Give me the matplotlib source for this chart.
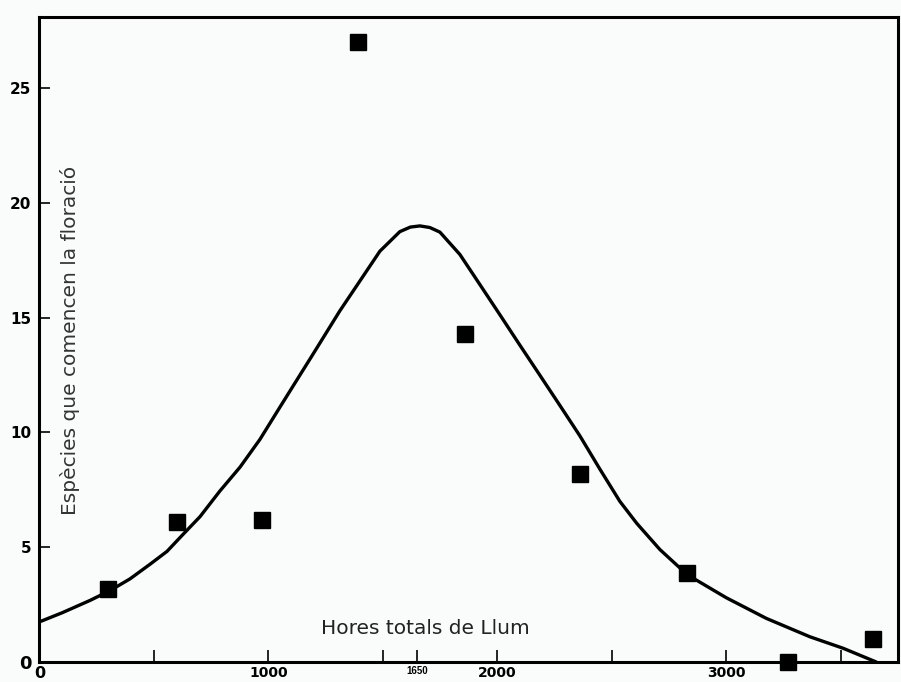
import matplotlib
matplotlib.use("Agg")
import matplotlib.pyplot as plt

# Data
obs_hours = [300, 600, 970, 1390, 1860, 2360, 2830, 3270, 3640]
obs_species = [3.2, 6.1, 6.2, 27.0, 14.3, 8.2, 3.9, 0.0, 1.0]

curve_hours = [0, 100, 220, 308, 395, 483, 557, 627, 701, 788, 876, 963, 1050,
               1100, 1194, 1312, 1413, 1487, 1574, 1620, 1662, 1705, 1749, 1836,
               1924, 2011, 2098, 2186, 2273, 2360, 2448, 2535, 2609, 2710, 2830,
               3000, 3175, 3365, 3510, 3655]
curve_species = [1.75, 2.15, 2.68, 3.11, 3.62, 4.26, 4.82, 5.56, 6.33, 7.45, 8.49,
                 9.7, 11.1, 11.9, 13.4, 15.3, 16.8, 17.9, 18.75, 18.95, 19.0, 18.93,
                 18.73, 17.76, 16.44, 15.13, 13.81, 12.49, 11.18, 9.86, 8.4, 7.0,
                 6.04, 4.9, 3.8, 2.8, 1.9, 1.1, 0.6, 0.0]

x_ticks = [0, 500, 1000, 1500, 1650, 2000, 2500, 3000, 3500]
x_tick_labels = ["0", "", "1000", "", "1650", "2000", "", "3000", ""]
y_ticks = [0, 5, 10, 15, 20, 25]
y_tick_labels = ["0", "5", "10", "15", "20", "25"]

xlabel = "Hores totals de Llum"
ylabel = "Espècies que comencen la floració"

bg = "#f9fcfb"
fig = plt.figure(figsize=(9.01, 6.82), dpi=100, facecolor=bg)
ax = fig.add_axes([0.0438, 0.0293, 0.9529, 0.9457], facecolor=bg)

ax.plot(curve_hours, curve_species, color="black", lw=2.4,
        solid_capstyle="round", solid_joinstyle="round", zorder=3)
ax.plot(obs_hours, obs_species, linestyle="none", marker="s", markersize=11.5,
        color="black", clip_on=False, zorder=4)

ax.set_xlim(0, 3750)
ax.set_ylim(0, 28.1)

for s in ax.spines.values():
    s.set_linewidth(2.2)
    s.set_color("black")

ax.set_xticks(x_ticks)
ax.set_xticklabels(x_tick_labels)
ax.set_yticks(y_ticks)
ax.set_yticklabels(y_tick_labels)
ax.tick_params(axis="x", direction="in", length=9, width=1.2, color="black", pad=3)
ax.tick_params(axis="y", direction="in", length=8, width=1.2, color="black", pad=6)

for lbl in ax.get_yticklabels():
    lbl.set_fontfamily("DejaVu Sans")
    lbl.set_fontweight("bold")
    lbl.set_fontsize(11)
    if lbl.get_text() == "0":
        lbl.set_fontsize(13)
for lbl in ax.get_xticklabels():
    lbl.set_fontfamily("DejaVu Sans")
    lbl.set_fontweight("bold")
    lbl.set_fontsize(10)
    if lbl.get_text() == "1650":
        lbl.set_fontsize(7)
        lbl.set_fontfamily("Liberation Sans")
    if lbl.get_text() == "0":
        lbl.set_fontsize(11.5)

ax.text(1685, 1.45, xlabel, ha="center", va="center", fontsize=14.5,
        family="DejaVu Sans", color="#222222")
ax.text(135, 14.0, ylabel, ha="center", va="center", rotation=90,
        fontsize=14.5, family="DejaVu Sans", color="#333333")

fig.savefig("out.png", dpi=100, facecolor=bg)
